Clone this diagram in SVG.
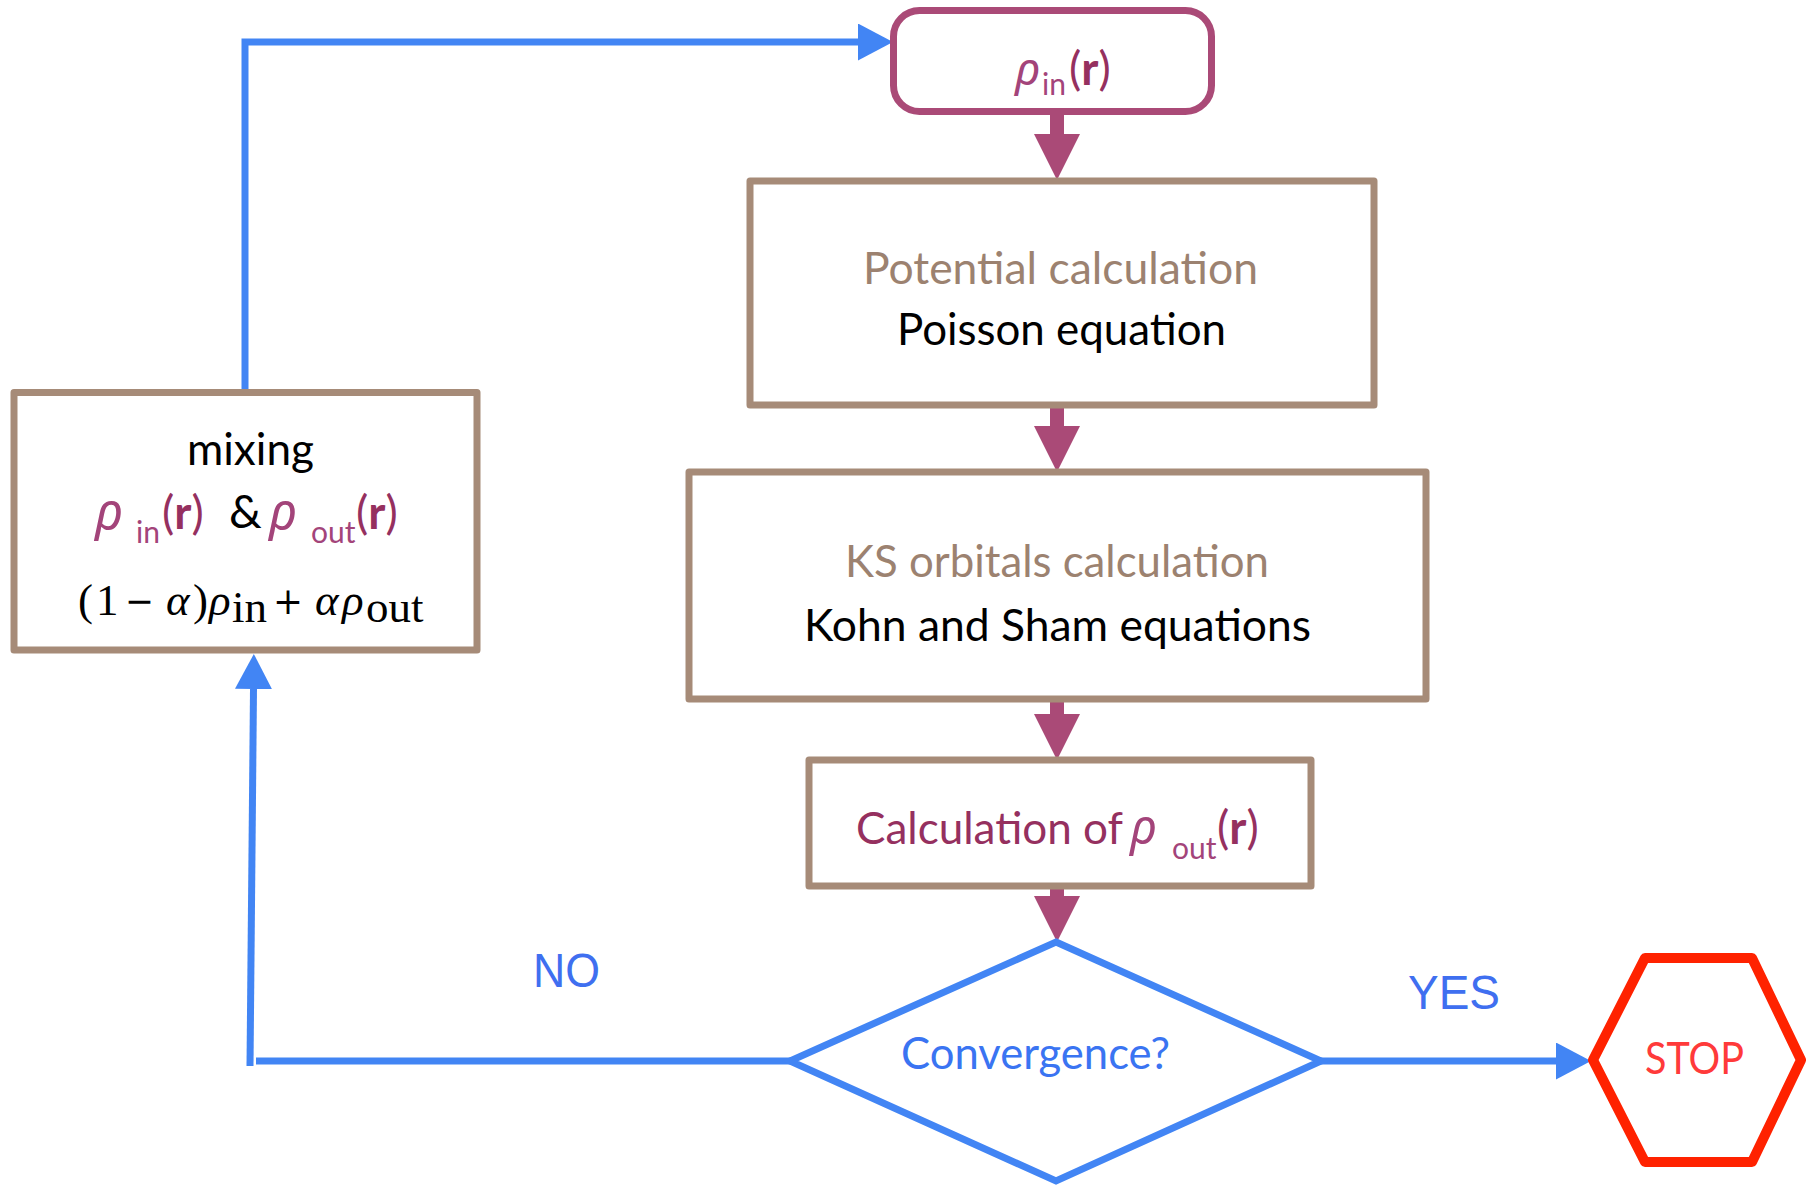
<svg xmlns="http://www.w3.org/2000/svg" width="1806" height="1189" viewBox="0 0 1806 1189">
<defs>
<style>
.box{fill:#fff;stroke:#A68B78;stroke-width:7;stroke-linejoin:round}
.cal{font-family:Lato,"Open Sans","Noto Sans",sans-serif;font-size:45px}
.tan{fill:#9C8270}
.blk{fill:#000}
.mag{fill:#A3447A}
.magd{fill:#95305F}
.rho{font-family:"Noto Sans","Open Sans",sans-serif;font-style:italic}
.sub{font-family:Lato,"Open Sans",sans-serif;font-size:30px}
.par{font-family:Lato,"Open Sans",sans-serif;font-size:46px}
.math{font-family:"Liberation Serif","DejaVu Serif",serif;font-size:45px;fill:#000}
.op{font-family:"DejaVu Serif",serif;font-size:38px;fill:#000}
.it{font-style:italic}
.mline{fill:none;stroke:#AA4A77;stroke-width:14}
.bline{fill:none;stroke:#4285F4;stroke-width:7}
.lab{font-family:"Liberation Sans",Arial,sans-serif;font-size:48px;fill:#3F6FF0}
</style>
<marker id="mh" markerUnits="userSpaceOnUse" markerWidth="46" markerHeight="46" viewBox="0 0 46 46" refX="0" refY="23" orient="auto">
<path d="M0,0 L46,23 L0,46 Z" fill="#AA4A77"/>
</marker>
<marker id="bh" markerUnits="userSpaceOnUse" markerWidth="35" markerHeight="37" viewBox="0 0 35 37" refX="0" refY="18.5" orient="auto">
<path d="M0,0 L35,18.5 L0,37 Z" fill="#4285F4"/>
</marker>
</defs>
<rect width="1806" height="1189" fill="#fff"/>

<g id="connectors">
<path class="mline" d="M1057,113 L1057,134" marker-end="url(#mh)"/>
<path class="mline" d="M1057,405 L1057,426" marker-end="url(#mh)"/>
<path class="mline" d="M1057,699 L1057,714" marker-end="url(#mh)"/>
<path class="mline" d="M1057,886 L1057,896" marker-end="url(#mh)"/>
<path class="bline" d="M245,392 L245,42 L858,42" marker-end="url(#bh)"/>
<path class="bline" d="M790,1061 L256,1061"/>
<path class="bline" d="M250,1066 L253.5,689" marker-end="url(#bh)"/>
<path class="bline" d="M1321,1061 L1556,1061" marker-end="url(#bh)"/>
<text class="lab" x="533" y="987" textLength="67" lengthAdjust="spacingAndGlyphs">NO</text>
<text class="lab" x="1408" y="1009" textLength="92" lengthAdjust="spacingAndGlyphs">YES</text>
</g>

<g id="rho-in">
<rect x="893.5" y="10.5" width="318" height="101" rx="26" fill="#fff" stroke="#AA4A77" stroke-width="7"/>
<text class="rho mag" x="1015" y="85" font-size="46">ρ</text>
<text class="sub mag" x="1042" y="95">in</text>
<text class="par magd" x="1069" y="85">(<tspan font-weight="bold">r</tspan>)</text>
</g>

<g id="potential">
<rect class="box" x="750" y="181" width="624" height="224"/>
<text class="cal tan" x="863" y="284" textLength="395" lengthAdjust="spacingAndGlyphs">Potential calculation</text>
<text class="cal blk" x="897" y="345" textLength="329" lengthAdjust="spacingAndGlyphs">Poisson equation</text>
</g>

<g id="ks">
<rect class="box" x="689" y="472" width="737" height="227"/>
<text class="cal tan" x="845" y="577" textLength="424" lengthAdjust="spacingAndGlyphs">KS orbitals calculation</text>
<text class="cal blk" x="804" y="641" textLength="507" lengthAdjust="spacingAndGlyphs">Kohn and Sham equations</text>
</g>

<g id="rho-out">
<rect class="box" x="809" y="760" width="502" height="126"/>
<text class="cal magd" x="856" y="844" textLength="267" lengthAdjust="spacingAndGlyphs">Calculation of</text>
<text class="rho mag" x="1130" y="844" font-size="49">ρ</text>
<text class="sub mag" x="1172" y="859">out</text>
<text class="par magd" x="1217" y="844">(<tspan font-weight="bold">r</tspan>)</text>
</g>

<g id="convergence">
<polygon points="1056,942 1321,1061 1056,1181 790,1061" fill="#fff" stroke="#4285F4" stroke-width="7" stroke-linejoin="miter"/>
<text class="cal" x="901" y="1069" fill="#3A74F2" textLength="269" lengthAdjust="spacingAndGlyphs">Convergence?</text>
</g>

<g id="stop">
<polygon points="1593,1060 1645,958 1752,958 1801,1060 1752,1162 1645,1162" fill="#fff" stroke="#FF2200" stroke-width="10" stroke-linejoin="round"/>
<text class="cal" x="1645" y="1074" font-size="48" fill="#FF3A3A" textLength="99" lengthAdjust="spacingAndGlyphs">STOP</text>
</g>

<g id="mixing">
<rect class="box" x="14" y="392.5" width="463" height="257.5"/>
<text class="cal blk" x="187" y="465" textLength="127" lengthAdjust="spacingAndGlyphs">mixing</text>
<text class="rho mag" x="95" y="529" font-size="51">ρ</text>
<text class="sub mag" x="136" y="543">in</text>
<text class="par magd" x="162" y="529">(<tspan font-weight="bold">r</tspan>)</text>
<text class="par blk" x="229" y="528">&amp;</text>
<text class="rho mag" x="269" y="529" font-size="51">ρ</text>
<text class="sub mag" x="311" y="543">out</text>
<text class="par magd" x="356" y="529">(<tspan font-weight="bold">r</tspan>)</text>
<text class="math" x="78" y="615">(</text>
<text class="math" x="96" y="615">1</text>
<text class="op" x="125" y="614" textLength="29" lengthAdjust="spacingAndGlyphs">−</text>
<text class="math it" x="166" y="615">α</text>
<text class="math" x="193" y="615">)</text>
<text class="math it" x="209" y="615">ρ</text>
<text class="math" x="232" y="622" font-size="31">in</text>
<text class="op" x="273" y="614" textLength="30" lengthAdjust="spacingAndGlyphs">+</text>
<text class="math it" x="315" y="615">α</text>
<text class="math it" x="342" y="615">ρ</text>
<text class="math" x="366" y="622" font-size="30">out</text>
</g>
</svg>
